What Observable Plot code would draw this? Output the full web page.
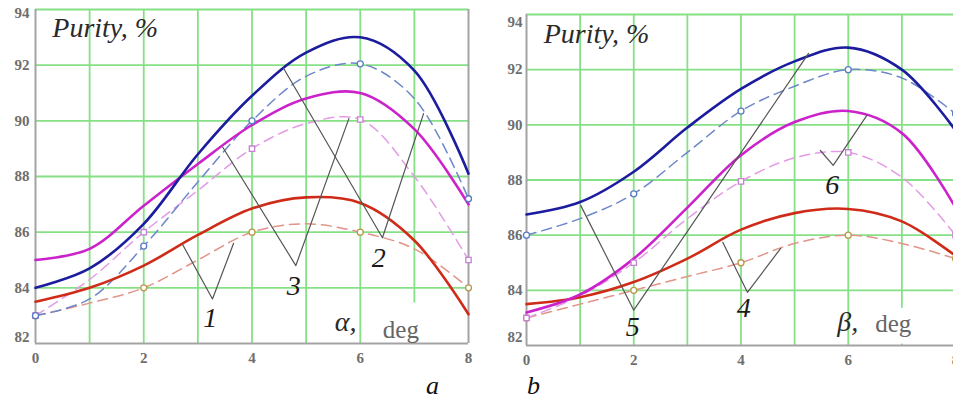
<!DOCTYPE html>
<html>
<head>
<meta charset="utf-8">
<script src="https://cdn.jsdelivr.net/npm/d3@7"></script>
<script src="https://cdn.jsdelivr.net/npm/@observablehq/plot@0.6"></script>
<style>
  html, body { margin: 0; padding: 0; background: #fff; }
  #wrap { position: relative; width: 953px; height: 403px; overflow: hidden; background: #fff; }
  #pa { position: absolute; left: 0; top: 0; width: 480px; }
  #pb { position: absolute; left: 480px; top: 0; width: 480px; }
  #pa svg, #pb svg { max-width: none !important; }
  svg text { font-family: "Liberation Serif", "Times New Roman", serif !important; }
  .cap { position: absolute; font-family: "Liberation Serif", "Times New Roman", serif; font-style: italic; font-size: 26px; color: #111; line-height: 1; }
</style>
</head>
<body>
<div id="wrap">
  <div id="pa"></div>
  <div id="pb"></div>
  <div class="cap" id="capA" style="left:426px; top:373px;">a</div>
  <div class="cap" id="capB" style="left:527px; top:373px;">b</div>
</div>
<script>
// ---------- data ----------
const xs = [0, 1, 2, 3, 4, 5, 6, 7, 8];
const markerXs = [0, 2, 4, 6, 8];
const xTicks = [0, 2, 4, 6, 8];
const yTicksMid = [84, 86, 88, 90, 92];
const yTickTop = [94];
const yTickBottom = [82];
const gridXs = [1, 2, 3, 4, 5, 6, 7];
const gridYs = [84, 86, 88, 90, 92];

// panel a (alpha)
const aBlueSolid   = [84.0, 84.7, 86.3, 88.8, 90.9, 92.45, 93.0, 91.8, 88.1];
const aBlueDashed  = [83.0, 83.6, 85.5, 87.8, 90.0, 91.6, 92.05, 90.8, 87.2];
const aMagSolid    = [85.0, 85.4, 86.95, 88.45, 89.85, 90.8, 91.0, 89.7, 87.0];
const aMagDashed   = [83.0, 84.3, 86.0, 87.5, 89.0, 89.9, 90.05, 88.0, 85.0];
const aRedSolid    = [83.5, 84.0, 84.8, 85.9, 86.85, 87.25, 87.05, 85.7, 83.05];
const aRedDashed   = [83.0, 83.45, 84.0, 85.0, 86.0, 86.3, 86.0, 85.4, 84.0];

// panel b (beta)
const bBlueSolid   = [86.75, 87.2, 88.3, 89.9, 91.3, 92.3, 92.8, 92.0, 89.8];
const bBlueDashed  = [86.0, 86.6, 87.5, 89.0, 90.5, 91.4, 92.0, 91.7, 90.4];
const bMagSolid    = [83.2, 83.85, 85.15, 87.0, 88.9, 90.1, 90.5, 89.7, 87.0];
const bMagDashed   = [83.0, 83.8, 85.0, 86.6, 87.95, 88.8, 89.0, 88.1, 86.0];
const bRedSolid    = [83.5, 83.75, 84.3, 85.15, 86.2, 86.8, 86.95, 86.5, 85.25];
const bRedDashed   = [83.0, 83.5, 84.0, 84.5, 85.0, 85.7, 86.0, 85.7, 85.15];

// leader lines (V shapes), data units
const aLeaderIds = ["1","1","1","3","3","3","2","2","2"];
const aLeaderX   = [2.72, 3.27, 3.66, 3.46, 4.81, 5.79, 4.58, 6.41, 7.17];
const aLeaderY   = [85.55, 83.6, 85.6, 89.05, 84.8, 90.08, 91.9, 85.8, 90.26];
const bLeaderIds = ["5","5","5","4","4","4","6","6","6"];
const bLeaderX   = [1.01, 2.0, 5.26, 3.66, 4.12, 4.74, 5.48, 5.72, 6.35];
const bLeaderY   = [87.08, 83.28, 92.59, 85.74, 83.93, 85.52, 89.07, 88.53, 90.35];

// curve number labels
const aNumText = ["1", "3", "2"];
const aNumX    = [3.23, 4.77, 6.34];
const aNumY    = [82.9, 84.07, 85.08];
const bNumText = ["5", "4", "6"];
const bNumX    = [1.98, 4.05, 5.7];
const bNumY    = [82.66, 83.35, 87.8];

// titles / axis names
const yTitle = "Purity, %";
const aTitlePos = [0.31, 93.35];
const bTitlePos = [0.32, 93.31];
const aAxisSym = "α,"; const aAxisSymPos = [5.73, 82.78];
const bAxisSym = "β,"; const bAxisSymPos = [5.99, 82.84];
const degText = "deg";
const aDegPos = [6.75, 82.47];
const bDegPos = [6.84, 82.77];
const aMask = [{x1: 6.62, x2: 7.35, y1: 82.05, y2: 83.45}];
const bMask = [{x1: 6.5, x2: 7.4, y1: 82.05, y2: 83.35}];

// ---------- styles ----------
const GREEN = "#86e086";
const GRAY = "#a3a3a3";
const styles = {
  blueSolid:  {stroke: "#1c1c9e", strokeWidth: 2.6},
  blueDashed: {stroke: "#6d88c8", strokeWidth: 1.5, strokeDasharray: "10,6"},
  magSolid:   {stroke: "#cc22cc", strokeWidth: 2.6},
  magDashed:  {stroke: "#e39be6", strokeWidth: 1.5, strokeDasharray: "10,6"},
  redSolid:   {stroke: "#cf2b18", strokeWidth: 2.6},
  redDashed:  {stroke: "#e29488", strokeWidth: 1.5, strokeDasharray: "10,6"}
};
const markerStyles = {
  blueDashed: {stroke: "#5a7cc4", symbol: "circle"},
  magDashed:  {stroke: "#c780d6", symbol: "square"},
  redDashed:  {stroke: "#b59a4a", symbol: "circle"}
};
const FONT = "'Liberation Serif', 'Times New Roman', serif";

function series(values) { return xs.map((x, i) => ({x, y: values[i]})); }
function markers(values) { return xs.map((x, i) => ({x, y: values[i]})).filter(d => markerXs.includes(d.x)); }

function makePanel(cfg) {
  const curves = cfg.curves;
  const leaders = cfg.leaderIds.map((id, i) => ({id, x: cfg.leaderX[i], y: cfg.leaderY[i]}));
  const nums = cfg.numText.map((t, i) => ({t, x: cfg.numX[i], y: cfg.numY[i]}));
  const tickText = {fill: "#6e6e6e", fontSize: 15, fontWeight: "bold", fontFamily: FONT};
  const marks = [
    Plot.gridX(gridXs, {stroke: GREEN, strokeOpacity: 1, strokeWidth: 1.8}),
    Plot.gridY(gridYs, {stroke: GREEN, strokeOpacity: 1, strokeWidth: 1.8}),
    Plot.rect(cfg.mask, {x1: "x1", x2: "x2", y1: "y1", y2: "y2", fill: "white"}),
    Plot.ruleY([94], {stroke: GREEN, strokeWidth: 2}),
    Plot.ruleX([8], {stroke: cfg.rightEdge, strokeWidth: 2}),
    Plot.ruleX([0], {stroke: GRAY, strokeWidth: 2}),
    Plot.ruleY([82], {stroke: GRAY, strokeWidth: 2})
  ];
  for (const key of ["redDashed", "magDashed", "blueDashed", "redSolid", "magSolid", "blueSolid"]) {
    marks.push(Plot.line(series(curves[key]), {x: "x", y: "y", curve: "catmull-rom", ...styles[key]}));
  }
  for (const key of ["redDashed", "magDashed", "blueDashed"]) {
    marks.push(Plot.dot(markers(curves[key]), {x: "x", y: "y", r: 3, fill: "white", strokeWidth: 1.3, ...markerStyles[key]}));
  }
  marks.push(
    Plot.line(leaders, {x: "x", y: "y", z: "id", stroke: "#555", strokeWidth: 1.2}),
    Plot.text(nums, {x: "x", y: "y", text: "t", fontSize: 28, fontStyle: "italic", fill: "#1a1a1a", fontFamily: FONT}),
    Plot.text([yTitle], {x: () => cfg.titlePos[0], y: () => cfg.titlePos[1], text: d => d, textAnchor: "start", fontSize: 28, fontStyle: "italic", fill: "#2a2a2a", fontFamily: FONT}),
    Plot.text([cfg.axisSym], {x: () => cfg.axisSymPos[0], y: () => cfg.axisSymPos[1], text: d => d, fontSize: 28, fontStyle: "italic", fill: "#2a2a2a", fontFamily: FONT}),
    Plot.text([degText], {x: () => cfg.degPos[0], y: () => cfg.degPos[1], text: d => d, fontSize: 25, fill: "#666", fontFamily: FONT}),
    Plot.axisX(xTicks, {tickSize: 0, tickPadding: 9, label: null, ...tickText}),
    Plot.axisY(yTicksMid, {tickSize: 0, tickPadding: cfg.yPad, label: null, ...tickText}),
    Plot.axisY(yTickTop, {tickSize: 0, tickPadding: cfg.yPad, label: null, dy: cfg.topDy, ...tickText}),
    Plot.axisY(yTickBottom, {tickSize: 0, tickPadding: cfg.yPad, label: null, dy: cfg.botDy, ...tickText})
  );
  return Plot.plot({
    width: 480, height: 375,
    marginLeft: cfg.mL, marginRight: cfg.mR, marginTop: cfg.mT, marginBottom: cfg.mB,
    x: {domain: [0, 8], label: null},
    y: {domain: [82, 94], label: null},
    style: {fontFamily: FONT, background: "transparent", overflow: "visible", maxWidth: "none"},
    marks
  });
}

document.getElementById("pa").append(makePanel({
  mL: 35, mR: 12, mT: 9, mB: 32, yPad: 6, topDy: 4, botDy: -6, rightEdge: GRAY,
  curves: {blueSolid: aBlueSolid, blueDashed: aBlueDashed, magSolid: aMagSolid, magDashed: aMagDashed, redSolid: aRedSolid, redDashed: aRedDashed},
  leaderIds: aLeaderIds, leaderX: aLeaderX, leaderY: aLeaderY,
  numText: aNumText, numX: aNumX, numY: aNumY,
  titlePos: aTitlePos, axisSym: aAxisSym, axisSymPos: aAxisSymPos, degPos: aDegPos, mask: aMask
}));
document.getElementById("pb").append(makePanel({
  mL: 46, mR: 5, mT: 14, mB: 30, yPad: 4, topDy: 8, botDy: -8, rightEdge: GREEN,
  curves: {blueSolid: bBlueSolid, blueDashed: bBlueDashed, magSolid: bMagSolid, magDashed: bMagDashed, redSolid: bRedSolid, redDashed: bRedDashed},
  leaderIds: bLeaderIds, leaderX: bLeaderX, leaderY: bLeaderY,
  numText: bNumText, numX: bNumX, numY: bNumY,
  titlePos: bTitlePos, axisSym: bAxisSym, axisSymPos: bAxisSymPos, degPos: bDegPos, mask: bMask
}));
</script>
</body>
</html>
